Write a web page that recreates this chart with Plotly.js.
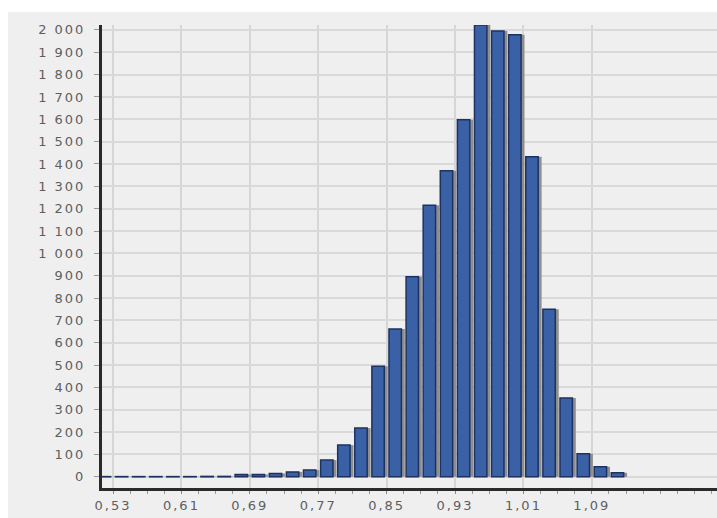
<!DOCTYPE html>
<html>
<head>
<meta charset="utf-8">
<script src="https://cdn.plot.ly/plotly-3.0.1.min.js"></script>
<style>
  html, body { margin: 0; padding: 0; background: #ffffff; width: 717px; height: 518px; overflow: hidden; }
  #chart { position: absolute; left: 8px; top: 12px; width: 709px; height: 506px; }
  #chart .xtick text, #chart .ytick text { letter-spacing: 2px; }
</style>
</head>
<body>
<div id="chart"></div>
<script>
// Bin centres (width 0.02) and counts
var binCenters = [0.52, 0.54, 0.56, 0.58, 0.60, 0.62, 0.64, 0.66, 0.68, 0.70,
                  0.72, 0.74, 0.76, 0.78, 0.80, 0.82, 0.84, 0.86, 0.88, 0.90,
                  0.92, 0.94, 0.96, 0.98, 1.00, 1.02, 1.04, 1.06, 1.08, 1.10, 1.12];
var counts = [1, 1, 1, 1, 1, 1, 2, 2, 10, 10,
              15, 22, 30, 75, 142, 218, 495, 662, 895, 1215,
              1370, 1598, 2022, 1995, 1978, 1432, 750, 353, 103, 45, 18];
var xTickVals = [0.53, 0.61, 0.69, 0.77, 0.85, 0.93, 1.01, 1.09];
var yTickStep = 100;

var barWidth = 0.0145;

var shadow = {
  type: 'bar',
  x: binCenters,
  y: counts,
  width: barWidth,
  offset: -barWidth / 2 + 0.004,
  marker: { color: '#8e8e8e', line: { width: 0 } },
  hoverinfo: 'skip',
  showlegend: false
};

var bars = {
  type: 'bar',
  x: binCenters,
  y: counts,
  width: barWidth,
  offset: -barWidth / 2,
  marker: { color: '#3a60a6', line: { color: '#1d3260', width: 1.5 } },
  showlegend: false
};

var tickFont = { family: 'DejaVu Sans', size: 13, color: '#5e5e5e' };

var layout = {
  width: 709,
  height: 506,
  margin: { l: 94, r: 0, t: 13, b: 30 },
  paper_bgcolor: '#efefef',
  plot_bgcolor: '#efefef',
  separators: ', ',
  barmode: 'overlay',
  xaxis: {
    range: [0.5171, 1.2364],
    tickmode: 'array',
    tickvals: xTickVals,
    tickformat: '.2f',
    showgrid: true,
    gridcolor: '#d6d6d6',
    gridwidth: 2,
    zeroline: false,
    showline: true,
    linecolor: '#2a2a2a',
    linewidth: 3,
    ticks: 'outside',
    ticklen: 3,
    tickcolor: '#888888',
    ticklabelstandoff: 0,
    tickfont: tickFont,
    minor: { ticks: 'outside', ticklen: 3, tickcolor: '#999999', dtick: 0.02, tick0: 0.53, showgrid: false }
  },
  yaxis: {
    range: [-50, 2022],
    dtick: yTickStep,
    tick0: 0,
    tickformat: ',d',
    separatethousands: true,
    showgrid: true,
    gridcolor: '#d9d9d9',
    gridwidth: 2,
    zeroline: false,
    showline: true,
    linecolor: '#2a2a2a',
    linewidth: 3,
    ticks: 'outside',
    ticklen: 5,
    tickcolor: '#999999',
    ticklabelstandoff: 6,
    tickfont: tickFont
  }
};

Plotly.newPlot('chart', [shadow, bars], layout, { displayModeBar: false, staticPlot: true });
</script>
</body>
</html>
